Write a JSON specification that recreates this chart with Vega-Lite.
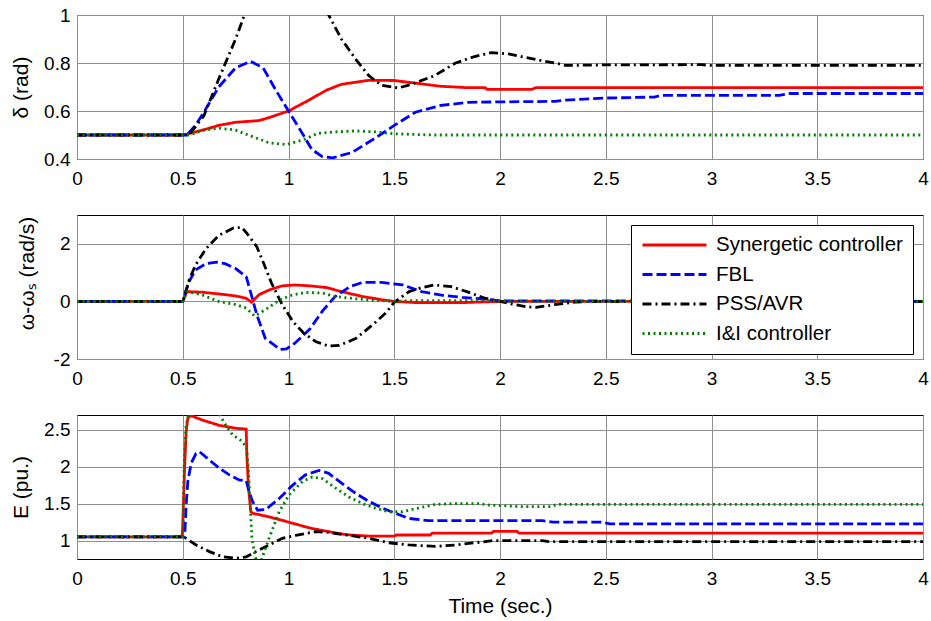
{
"$schema": "https://vega.github.io/schema/vega-lite/v6.json",
"padding": {"left": 9, "top": 5, "right": 0, "bottom": 0},
"datasets": {
"delta": [
{"s":"Synergetic controller","t":0,"v":0.5},{"s":"Synergetic controller","t":0.5,"v":0.5},{"s":"Synergetic controller","t":0.55,"v":0.51},{"s":"Synergetic controller","t":0.6,"v":0.522},{"s":"Synergetic controller","t":0.67,"v":0.54},{"s":"Synergetic controller","t":0.75,"v":0.553},{"s":"Synergetic controller","t":0.86,"v":0.56},{"s":"Synergetic controller","t":0.91,"v":0.573},{"s":"Synergetic controller","t":1.0,"v":0.6},{"s":"Synergetic controller","t":1.1,"v":0.647},{"s":"Synergetic controller","t":1.18,"v":0.687},{"s":"Synergetic controller","t":1.25,"v":0.711},{"s":"Synergetic controller","t":1.38,"v":0.728},{"s":"Synergetic controller","t":1.5,"v":0.727},{"s":"Synergetic controller","t":1.6,"v":0.716},{"s":"Synergetic controller","t":1.72,"v":0.703},{"s":"Synergetic controller","t":1.85,"v":0.697},{"s":"Synergetic controller","t":1.93,"v":0.697},{"s":"Synergetic controller","t":1.94,"v":0.69},{"s":"Synergetic controller","t":2.15,"v":0.69},{"s":"Synergetic controller","t":2.17,"v":0.697},{"s":"Synergetic controller","t":4,"v":0.697},
{"s":"FBL","t":0,"v":0.5},{"s":"FBL","t":0.52,"v":0.5},{"s":"FBL","t":0.56,"v":0.54},{"s":"FBL","t":0.6,"v":0.595},{"s":"FBL","t":0.67,"v":0.7},{"s":"FBL","t":0.75,"v":0.78},{"s":"FBL","t":0.82,"v":0.807},{"s":"FBL","t":0.88,"v":0.78},{"s":"FBL","t":0.94,"v":0.687},{"s":"FBL","t":1.0,"v":0.6},{"s":"FBL","t":1.07,"v":0.5},{"s":"FBL","t":1.11,"v":0.44},{"s":"FBL","t":1.16,"v":0.41},{"s":"FBL","t":1.21,"v":0.405},{"s":"FBL","t":1.3,"v":0.427},{"s":"FBL","t":1.41,"v":0.487},{"s":"FBL","t":1.5,"v":0.54},{"s":"FBL","t":1.6,"v":0.595},{"s":"FBL","t":1.72,"v":0.623},{"s":"FBL","t":1.85,"v":0.636},{"s":"FBL","t":2.0,"v":0.638},{"s":"FBL","t":2.26,"v":0.64},{"s":"FBL","t":2.31,"v":0.645},{"s":"FBL","t":2.5,"v":0.654},{"s":"FBL","t":2.73,"v":0.658},{"s":"FBL","t":2.76,"v":0.665},{"s":"FBL","t":3.32,"v":0.665},{"s":"FBL","t":3.37,"v":0.673},{"s":"FBL","t":4,"v":0.673},
{"s":"PSS/AVR","t":0,"v":0.5},{"s":"PSS/AVR","t":0.53,"v":0.5},{"s":"PSS/AVR","t":0.6,"v":0.58},{"s":"PSS/AVR","t":0.67,"v":0.733},{"s":"PSS/AVR","t":0.75,"v":0.9},{"s":"PSS/AVR","t":0.8,"v":1.02},{"s":"PSS/AVR","t":0.85,"v":1.1},{"s":"PSS/AVR","t":0.95,"v":1.17},{"s":"PSS/AVR","t":1.05,"v":1.14},{"s":"PSS/AVR","t":1.12,"v":1.08},{"s":"PSS/AVR","t":1.19,"v":1.0},{"s":"PSS/AVR","t":1.25,"v":0.9},{"s":"PSS/AVR","t":1.32,"v":0.813},{"s":"PSS/AVR","t":1.38,"v":0.747},{"s":"PSS/AVR","t":1.44,"v":0.707},{"s":"PSS/AVR","t":1.52,"v":0.696},{"s":"PSS/AVR","t":1.58,"v":0.711},{"s":"PSS/AVR","t":1.69,"v":0.747},{"s":"PSS/AVR","t":1.79,"v":0.8},{"s":"PSS/AVR","t":1.88,"v":0.827},{"s":"PSS/AVR","t":1.96,"v":0.843},{"s":"PSS/AVR","t":2.04,"v":0.838},{"s":"PSS/AVR","t":2.12,"v":0.823},{"s":"PSS/AVR","t":2.28,"v":0.796},{"s":"PSS/AVR","t":2.31,"v":0.79},{"s":"PSS/AVR","t":2.5,"v":0.792},{"s":"PSS/AVR","t":2.95,"v":0.793},{"s":"PSS/AVR","t":3.0,"v":0.79},{"s":"PSS/AVR","t":4,"v":0.79},
{"s":"I&I controller","t":0,"v":0.5},{"s":"I&I controller","t":0.53,"v":0.5},{"s":"I&I controller","t":0.6,"v":0.52},{"s":"I&I controller","t":0.67,"v":0.529},{"s":"I&I controller","t":0.75,"v":0.52},{"s":"I&I controller","t":0.83,"v":0.493},{"s":"I&I controller","t":0.91,"v":0.467},{"s":"I&I controller","t":0.99,"v":0.46},{"s":"I&I controller","t":1.07,"v":0.48},{"s":"I&I controller","t":1.14,"v":0.507},{"s":"I&I controller","t":1.22,"v":0.513},{"s":"I&I controller","t":1.32,"v":0.517},{"s":"I&I controller","t":1.41,"v":0.513},{"s":"I&I controller","t":1.5,"v":0.505},{"s":"I&I controller","t":1.68,"v":0.5},{"s":"I&I controller","t":4,"v":0.5}
],
"omega": [
{"s":"Synergetic controller","t":0,"v":0},{"s":"Synergetic controller","t":0.5,"v":0},{"s":"Synergetic controller","t":0.52,"v":0.34},{"s":"Synergetic controller","t":0.59,"v":0.32},{"s":"Synergetic controller","t":0.67,"v":0.26},{"s":"Synergetic controller","t":0.75,"v":0.19},{"s":"Synergetic controller","t":0.8,"v":0.11},{"s":"Synergetic controller","t":0.825,"v":-0.03},{"s":"Synergetic controller","t":0.86,"v":0.23},{"s":"Synergetic controller","t":0.91,"v":0.4},{"s":"Synergetic controller","t":0.97,"v":0.54},{"s":"Synergetic controller","t":1.03,"v":0.57},{"s":"Synergetic controller","t":1.1,"v":0.54},{"s":"Synergetic controller","t":1.18,"v":0.48},{"s":"Synergetic controller","t":1.25,"v":0.34},{"s":"Synergetic controller","t":1.35,"v":0.17},{"s":"Synergetic controller","t":1.44,"v":0.06},{"s":"Synergetic controller","t":1.5,"v":0},{"s":"Synergetic controller","t":1.6,"v":-0.04},{"s":"Synergetic controller","t":1.83,"v":-0.04},{"s":"Synergetic controller","t":2.0,"v":0},{"s":"Synergetic controller","t":4,"v":0},
{"s":"FBL","t":0,"v":0},{"s":"FBL","t":0.5,"v":0},{"s":"FBL","t":0.53,"v":0.69},{"s":"FBL","t":0.56,"v":1.09},{"s":"FBL","t":0.61,"v":1.31},{"s":"FBL","t":0.66,"v":1.36},{"s":"FBL","t":0.7,"v":1.31},{"s":"FBL","t":0.75,"v":1.14},{"s":"FBL","t":0.8,"v":0.86},{"s":"FBL","t":0.82,"v":0.34},{"s":"FBL","t":0.85,"v":-0.46},{"s":"FBL","t":0.89,"v":-1.28},{"s":"FBL","t":0.96,"v":-1.67},{"s":"FBL","t":0.99,"v":-1.65},{"s":"FBL","t":1.03,"v":-1.45},{"s":"FBL","t":1.1,"v":-0.97},{"s":"FBL","t":1.16,"v":-0.34},{"s":"FBL","t":1.22,"v":0.17},{"s":"FBL","t":1.29,"v":0.51},{"s":"FBL","t":1.35,"v":0.66},{"s":"FBL","t":1.44,"v":0.66},{"s":"FBL","t":1.54,"v":0.57},{"s":"FBL","t":1.63,"v":0.34},{"s":"FBL","t":1.73,"v":0.21},{"s":"FBL","t":1.82,"v":0.14},{"s":"FBL","t":1.93,"v":0.08},{"s":"FBL","t":2.0,"v":0.02},{"s":"FBL","t":2.6,"v":0.02},{"s":"FBL","t":2.7,"v":0},{"s":"FBL","t":4,"v":0},
{"s":"PSS/AVR","t":0,"v":0},{"s":"PSS/AVR","t":0.5,"v":0},{"s":"PSS/AVR","t":0.53,"v":0.74},{"s":"PSS/AVR","t":0.56,"v":1.26},{"s":"PSS/AVR","t":0.61,"v":1.83},{"s":"PSS/AVR","t":0.67,"v":2.29},{"s":"PSS/AVR","t":0.74,"v":2.55},{"s":"PSS/AVR","t":0.78,"v":2.57},{"s":"PSS/AVR","t":0.81,"v":2.3},{"s":"PSS/AVR","t":0.85,"v":1.9},{"s":"PSS/AVR","t":0.88,"v":1.37},{"s":"PSS/AVR","t":0.92,"v":0.63},{"s":"PSS/AVR","t":0.97,"v":-0.11},{"s":"PSS/AVR","t":1.02,"v":-0.69},{"s":"PSS/AVR","t":1.07,"v":-1.09},{"s":"PSS/AVR","t":1.13,"v":-1.4},{"s":"PSS/AVR","t":1.19,"v":-1.55},{"s":"PSS/AVR","t":1.24,"v":-1.53},{"s":"PSS/AVR","t":1.32,"v":-1.28},{"s":"PSS/AVR","t":1.4,"v":-0.8},{"s":"PSS/AVR","t":1.46,"v":-0.4},{"s":"PSS/AVR","t":1.5,"v":-0.03},{"s":"PSS/AVR","t":1.57,"v":0.34},{"s":"PSS/AVR","t":1.63,"v":0.48},{"s":"PSS/AVR","t":1.69,"v":0.57},{"s":"PSS/AVR","t":1.77,"v":0.51},{"s":"PSS/AVR","t":1.85,"v":0.32},{"s":"PSS/AVR","t":1.93,"v":0.11},{"s":"PSS/AVR","t":2.0,"v":0},{"s":"PSS/AVR","t":2.06,"v":-0.1},{"s":"PSS/AVR","t":2.12,"v":-0.18},{"s":"PSS/AVR","t":2.17,"v":-0.21},{"s":"PSS/AVR","t":2.25,"v":-0.12},{"s":"PSS/AVR","t":2.36,"v":-0.02},{"s":"PSS/AVR","t":2.45,"v":0},{"s":"PSS/AVR","t":4,"v":0},
{"s":"I&I controller","t":0,"v":0},{"s":"I&I controller","t":0.5,"v":0},{"s":"I&I controller","t":0.52,"v":0.34},{"s":"I&I controller","t":0.59,"v":0.23},{"s":"I&I controller","t":0.67,"v":0},{"s":"I&I controller","t":0.75,"v":-0.11},{"s":"I&I controller","t":0.8,"v":-0.23},{"s":"I&I controller","t":0.84,"v":-0.51},{"s":"I&I controller","t":0.89,"v":-0.29},{"s":"I&I controller","t":0.96,"v":0.06},{"s":"I&I controller","t":1.02,"v":0.23},{"s":"I&I controller","t":1.08,"v":0.31},{"s":"I&I controller","t":1.16,"v":0.29},{"s":"I&I controller","t":1.22,"v":0.17},{"s":"I&I controller","t":1.32,"v":0.09},{"s":"I&I controller","t":1.41,"v":0.03},{"s":"I&I controller","t":1.5,"v":0},{"s":"I&I controller","t":1.6,"v":0.03},{"s":"I&I controller","t":2.0,"v":0.03},{"s":"I&I controller","t":2.05,"v":0},{"s":"I&I controller","t":4,"v":0}
],
"efield": [
{"s":"Synergetic controller","t":0,"v":1.05},{"s":"Synergetic controller","t":0.497,"v":1.05},{"s":"Synergetic controller","t":0.5,"v":1.21},{"s":"Synergetic controller","t":0.508,"v":1.93},{"s":"Synergetic controller","t":0.516,"v":2.47},{"s":"Synergetic controller","t":0.524,"v":2.66},{"s":"Synergetic controller","t":0.54,"v":2.69},{"s":"Synergetic controller","t":0.594,"v":2.63},{"s":"Synergetic controller","t":0.673,"v":2.56},{"s":"Synergetic controller","t":0.751,"v":2.52},{"s":"Synergetic controller","t":0.8,"v":2.51},{"s":"Synergetic controller","t":0.803,"v":2.16},{"s":"Synergetic controller","t":0.811,"v":1.71},{"s":"Synergetic controller","t":0.822,"v":1.39},{"s":"Synergetic controller","t":0.83,"v":1.37},{"s":"Synergetic controller","t":0.91,"v":1.32},{"s":"Synergetic controller","t":1.0,"v":1.25},{"s":"Synergetic controller","t":1.1,"v":1.17},{"s":"Synergetic controller","t":1.19,"v":1.12},{"s":"Synergetic controller","t":1.27,"v":1.08},{"s":"Synergetic controller","t":1.38,"v":1.06},{"s":"Synergetic controller","t":1.5,"v":1.06},{"s":"Synergetic controller","t":1.51,"v":1.075},{"s":"Synergetic controller","t":1.67,"v":1.075},{"s":"Synergetic controller","t":1.68,"v":1.1},{"s":"Synergetic controller","t":1.96,"v":1.1},{"s":"Synergetic controller","t":1.97,"v":1.125},{"s":"Synergetic controller","t":2.08,"v":1.125},{"s":"Synergetic controller","t":2.09,"v":1.1},{"s":"Synergetic controller","t":4,"v":1.1},
{"s":"FBL","t":0,"v":1.05},{"s":"FBL","t":0.505,"v":1.05},{"s":"FBL","t":0.51,"v":1.1},{"s":"FBL","t":0.516,"v":1.48},{"s":"FBL","t":0.524,"v":1.8},{"s":"FBL","t":0.54,"v":2.05},{"s":"FBL","t":0.563,"v":2.18},{"s":"FBL","t":0.58,"v":2.2},{"s":"FBL","t":0.626,"v":2.09},{"s":"FBL","t":0.673,"v":1.98},{"s":"FBL","t":0.72,"v":1.89},{"s":"FBL","t":0.767,"v":1.82},{"s":"FBL","t":0.8,"v":1.81},{"s":"FBL","t":0.814,"v":1.66},{"s":"FBL","t":0.83,"v":1.53},{"s":"FBL","t":0.854,"v":1.41},{"s":"FBL","t":0.893,"v":1.42},{"s":"FBL","t":0.956,"v":1.57},{"s":"FBL","t":1.02,"v":1.75},{"s":"FBL","t":1.08,"v":1.89},{"s":"FBL","t":1.144,"v":1.95},{"s":"FBL","t":1.19,"v":1.91},{"s":"FBL","t":1.254,"v":1.77},{"s":"FBL","t":1.317,"v":1.64},{"s":"FBL","t":1.38,"v":1.53},{"s":"FBL","t":1.443,"v":1.44},{"s":"FBL","t":1.505,"v":1.37},{"s":"FBL","t":1.568,"v":1.3},{"s":"FBL","t":1.66,"v":1.27},{"s":"FBL","t":2.2,"v":1.27},{"s":"FBL","t":2.25,"v":1.25},{"s":"FBL","t":2.48,"v":1.25},{"s":"FBL","t":2.52,"v":1.225},{"s":"FBL","t":4,"v":1.225},
{"s":"PSS/AVR","t":0,"v":1.05},{"s":"PSS/AVR","t":0.505,"v":1.05},{"s":"PSS/AVR","t":0.563,"v":0.94},{"s":"PSS/AVR","t":0.626,"v":0.85},{"s":"PSS/AVR","t":0.688,"v":0.78},{"s":"PSS/AVR","t":0.751,"v":0.76},{"s":"PSS/AVR","t":0.8,"v":0.78},{"s":"PSS/AVR","t":0.846,"v":0.85},{"s":"PSS/AVR","t":0.908,"v":0.94},{"s":"PSS/AVR","t":0.971,"v":1.03},{"s":"PSS/AVR","t":1.034,"v":1.07},{"s":"PSS/AVR","t":1.128,"v":1.12},{"s":"PSS/AVR","t":1.19,"v":1.11},{"s":"PSS/AVR","t":1.286,"v":1.07},{"s":"PSS/AVR","t":1.38,"v":1.03},{"s":"PSS/AVR","t":1.474,"v":0.97},{"s":"PSS/AVR","t":1.568,"v":0.94},{"s":"PSS/AVR","t":1.694,"v":0.92},{"s":"PSS/AVR","t":1.79,"v":0.94},{"s":"PSS/AVR","t":1.883,"v":0.97},{"s":"PSS/AVR","t":1.97,"v":1.0},{"s":"PSS/AVR","t":2.2,"v":1.0},{"s":"PSS/AVR","t":2.23,"v":0.985},{"s":"PSS/AVR","t":4,"v":0.985},
{"s":"I&I controller","t":0,"v":1.05},{"s":"I&I controller","t":0.5,"v":1.05},{"s":"I&I controller","t":0.508,"v":2.16},{"s":"I&I controller","t":0.516,"v":2.56},{"s":"I&I controller","t":0.53,"v":2.75},{"s":"I&I controller","t":0.56,"v":2.85},{"s":"I&I controller","t":0.6,"v":2.87},{"s":"I&I controller","t":0.64,"v":2.8},{"s":"I&I controller","t":0.673,"v":2.71},{"s":"I&I controller","t":0.704,"v":2.56},{"s":"I&I controller","t":0.736,"v":2.43},{"s":"I&I controller","t":0.783,"v":2.34},{"s":"I&I controller","t":0.802,"v":2.25},{"s":"I&I controller","t":0.811,"v":1.93},{"s":"I&I controller","t":0.819,"v":1.48},{"s":"I&I controller","t":0.827,"v":1.03},{"s":"I&I controller","t":0.838,"v":0.85},{"s":"I&I controller","t":0.85,"v":0.7},{"s":"I&I controller","t":0.86,"v":0.65},{"s":"I&I controller","t":0.868,"v":0.7},{"s":"I&I controller","t":0.877,"v":0.78},{"s":"I&I controller","t":0.908,"v":1.03},{"s":"I&I controller","t":0.956,"v":1.39},{"s":"I&I controller","t":1.003,"v":1.62},{"s":"I&I controller","t":1.066,"v":1.8},{"s":"I&I controller","t":1.113,"v":1.86},{"s":"I&I controller","t":1.16,"v":1.84},{"s":"I&I controller","t":1.223,"v":1.71},{"s":"I&I controller","t":1.286,"v":1.59},{"s":"I&I controller","t":1.35,"v":1.5},{"s":"I&I controller","t":1.41,"v":1.44},{"s":"I&I controller","t":1.474,"v":1.39},{"s":"I&I controller","t":1.537,"v":1.39},{"s":"I&I controller","t":1.615,"v":1.44},{"s":"I&I controller","t":1.694,"v":1.49},{"s":"I&I controller","t":1.79,"v":1.5},{"s":"I&I controller","t":1.9,"v":1.5},{"s":"I&I controller","t":1.95,"v":1.48},{"s":"I&I controller","t":2.1,"v":1.46},{"s":"I&I controller","t":2.24,"v":1.46},{"s":"I&I controller","t":2.27,"v":1.49},{"s":"I&I controller","t":4,"v":1.49}
]
},
"spacing": 56,
"bounds": "flush",
"resolve": {"legend": {"color": "independent", "strokeDash": "independent"}},
"vconcat": [
{
"width": 846, "height": 144,
"data": {"name": "delta"},
"mark": {"type": "line", "clip": true},
"encoding": {
"x": {"field": "t", "type": "quantitative", "scale": {"domain": [0, 4], "nice": false}, "axis": {"values": [0,0.5,1,1.5,2,2.5,3,3.5,4], "title": null}},
"y": {"field": "v", "type": "quantitative", "scale": {"domain": [0.4, 1], "nice": false, "zero": false}, "axis": {"values": [0.4,0.6,0.8,1], "title": "δ (rad)", "titleX": -46}},
"color": {"field": "s", "type": "nominal", "scale": {"domain": ["Synergetic controller","FBL","PSS/AVR","I&I controller"], "range": ["#ff0000","#0000ff","#000000","#008000"]}, "legend": null},
"strokeDash": {"field": "s", "type": "nominal", "scale": {"domain": ["Synergetic controller","FBL","PSS/AVR","I&I controller"], "range": [[1,0],[10,4],[9,4,2,4],[2,3.5]]}, "legend": null}
}
},
{
"width": 846, "height": 144,
"data": {"name": "omega"},
"mark": {"type": "line", "clip": true},
"encoding": {
"x": {"field": "t", "type": "quantitative", "scale": {"domain": [0, 4], "nice": false}, "axis": {"values": [0,0.5,1,1.5,2,2.5,3,3.5,4], "title": null}},
"y": {"field": "v", "type": "quantitative", "scale": {"domain": [-2, 3], "nice": false, "zero": false}, "axis": {"values": [-2,0,2], "title": "ω-ωₛ (rad/s)", "titleX": -40, "titleY": 58}},
"color": {"field": "s", "type": "nominal", "scale": {"domain": ["Synergetic controller","FBL","PSS/AVR","I&I controller"], "range": ["#ff0000","#0000ff","#000000","#008000"]},
  "legend": {"orient": "top-right", "offset": 10, "title": null, "symbolType": "stroke", "symbolSize": 4096, "symbolStrokeWidth": 2.8, "clipHeight": 20, "rowPadding": 8.5, "padding": 10, "labelOffset": 8, "labelFontSize": 20.5, "labelFont": "Liberation Sans", "labelColor": "#000000", "fillColor": "#ffffff", "strokeColor": "#000000", "labelLimit": 0}},
"strokeDash": {"field": "s", "type": "nominal", "scale": {"domain": ["Synergetic controller","FBL","PSS/AVR","I&I controller"], "range": [[1,0],[10,4],[9,4,2,4],[2,3.5]]},
  "legend": {"orient": "top-right", "offset": 10, "title": null, "symbolType": "stroke", "symbolSize": 4096, "symbolStrokeWidth": 2.8, "clipHeight": 20, "rowPadding": 8.5, "padding": 10, "labelOffset": 8, "labelFontSize": 20.5, "labelFont": "Liberation Sans", "labelColor": "#000000", "fillColor": "#ffffff", "strokeColor": "#000000", "labelLimit": 0}}
}
},
{
"width": 846, "height": 144,
"data": {"name": "efield"},
"mark": {"type": "line", "clip": true},
"encoding": {
"x": {"field": "t", "type": "quantitative", "scale": {"domain": [0, 4], "nice": false}, "axis": {"values": [0,0.5,1,1.5,2,2.5,3,3.5,4], "title": "Time (sec.)", "titlePadding": 7}},
"y": {"field": "v", "type": "quantitative", "scale": {"domain": [0.75, 2.7], "nice": false, "zero": false}, "axis": {"values": [1,1.5,2,2.5], "title": "E (pu.)", "titleX": -46}},
"color": {"field": "s", "type": "nominal", "scale": {"domain": ["Synergetic controller","FBL","PSS/AVR","I&I controller"], "range": ["#ff0000","#0000ff","#000000","#008000"]}, "legend": null},
"strokeDash": {"field": "s", "type": "nominal", "scale": {"domain": ["Synergetic controller","FBL","PSS/AVR","I&I controller"], "range": [[1,0],[10,4],[9,4,2,4],[2,3.5]]}, "legend": null}
}
}
],
"config": {
"font": "Liberation Sans",
"view": {"stroke": "#000000", "strokeWidth": 1},
"line": {"strokeWidth": 2.8},
"axis": {"labelFont": "Liberation Sans", "labelFontSize": 19, "labelColor": "#000000", "titleFont": "Liberation Sans", "titleFontSize": 21, "titleFontWeight": "normal", "titleColor": "#000000", "domain": false, "ticks": false, "gridColor": "#909090", "gridOpacity": 1, "gridWidth": 1, "labelExpr": "'' + datum.value"},
"axisX": {"labelPadding": 10, "labelFlush": false, "labelOverlap": false},
"axisY": {"labelPadding": 7}
}
}
